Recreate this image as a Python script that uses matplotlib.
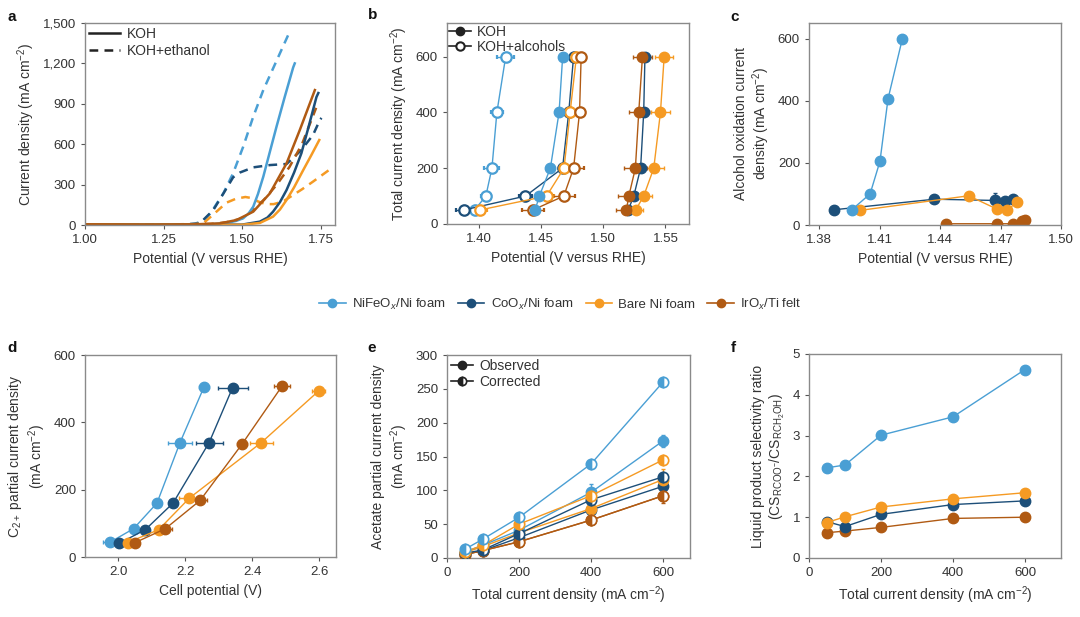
import matplotlib
matplotlib.use("Agg")
import matplotlib.pyplot as plt
from matplotlib.lines import Line2D
from matplotlib.ticker import FuncFormatter
import numpy as np

plt.rcParams['font.family'] = ['Liberation Sans', 'DejaVu Sans']
plt.rcParams['mathtext.fontset'] = 'custom'
plt.rcParams['mathtext.rm'] = 'Liberation Sans'
plt.rcParams['mathtext.it'] = 'Liberation Sans:italic'
plt.rcParams['mathtext.default'] = 'regular'
plt.rcParams['text.color'] = '#333333'
plt.rcParams['axes.labelcolor'] = '#333333'
plt.rcParams['xtick.color'] = '#333333'
plt.rcParams['ytick.color'] = '#333333'

# ---------------- colours / names ----------------
materials = ['NiFeO$_\\mathit{x}$/Ni foam', 'CoO$_\\mathit{x}$/Ni foam', 'Bare Ni foam', 'IrO$_\\mathit{x}$/Ti felt']
colors = ['#4a9fd4', '#1d4f79', '#f59a23', '#b05a13']

# ---------------- panel a: polarisation curves ----------------
a_nife_koh_v = [1.00, 1.20, 1.40, 1.45, 1.48, 1.503, 1.52, 1.535, 1.55, 1.567, 1.609, 1.635, 1.662, 1.667]
a_nife_koh_j = [5, 3, 5, 15, 30, 50, 85, 136, 230, 359, 730, 950, 1170, 1200]
a_nife_eth_v = [1.00, 1.20, 1.30, 1.35, 1.375, 1.40, 1.44, 1.471, 1.503, 1.535, 1.567, 1.646, 1.652]
a_nife_eth_j = [5, 3, 2, 10, 30, 90, 235, 384, 581, 804, 1002, 1410, 1430]
a_co_koh_v = [1.00, 1.20, 1.50, 1.556, 1.58, 1.598, 1.62, 1.641, 1.665, 1.688, 1.71, 1.736, 1.742]
a_co_koh_j = [4, 3, 3, 25, 55, 99, 170, 260, 390, 532, 720, 950, 980]
a_co_eth_v = [1.00, 1.20, 1.33, 1.365, 1.408, 1.45, 1.471, 1.493, 1.535, 1.588, 1.641, 1.686, 1.725, 1.747, 1.752]
a_co_eth_j = [4, 3, 5, 12, 111, 272, 354, 390, 428, 445, 453, 552, 668, 780, 795]
a_ni_koh_v = [1.00, 1.20, 1.50, 1.556, 1.598, 1.62, 1.641, 1.665, 1.694, 1.72, 1.745]
a_ni_koh_j = [3, 2, 2, 15, 62, 115, 186, 280, 408, 520, 631]
a_ni_eth_v = [1.00, 1.20, 1.34, 1.376, 1.418, 1.45, 1.48, 1.51, 1.53, 1.55, 1.575, 1.60, 1.63, 1.66, 1.69, 1.725, 1.78]
a_ni_eth_j = [3, 2, 4, 12, 99, 166, 195, 208, 200, 175, 155, 155, 175, 220, 265, 322, 415]
a_ir_koh_v = [1.00, 1.20, 1.35, 1.429, 1.482, 1.535, 1.588, 1.641, 1.683, 1.731]
a_ir_koh_j = [5, 3, 5, 12, 37, 99, 235, 458, 705, 1002]
a_ir_eth_v = [1.00, 1.20, 1.40, 1.45, 1.50, 1.53, 1.57, 1.61, 1.65, 1.69, 1.72, 1.735]
a_ir_eth_j = [5, 3, 8, 20, 50, 100, 190, 300, 430, 600, 780, 870]

# ---------------- panel b: total current vs potential ----------------
b_j = [50, 100, 200, 400, 600]
b_koh_v = [
    [1.445, 1.4484, 1.4573, 1.4643, 1.4672],
    [1.5200, 1.5245, 1.5300, 1.5325, 1.5335],
    [1.5260, 1.5325, 1.5406, 1.5460, 1.5490],
    [1.5185, 1.5205, 1.5258, 1.5285, 1.5315],
]
b_koh_err = [
    [0.003, 0.003, 0.003, 0.003, 0.003],
    [0.005, 0.004, 0.004, 0.004, 0.004],
    [0.006, 0.007, 0.008, 0.008, 0.007],
    [0.008, 0.009, 0.009, 0.008, 0.008],
]
b_alc_v = [
    [1.3962, 1.4053, 1.4102, 1.4142, 1.4213],
    [1.3874, 1.4372, 1.4671, 1.4721, 1.4760],
    [1.4003, 1.4542, 1.4683, 1.4732, 1.4783],
    [1.4431, 1.4681, 1.4760, 1.4808, 1.4821],
]
b_alc_err = [
    [0.004, 0.004, 0.006, 0.005, 0.007],
    [0.006, 0.005, 0.003, 0.003, 0.003],
    [0.006, 0.006, 0.004, 0.003, 0.003],
    [0.009, 0.009, 0.008, 0.003, 0.003],
]

# ---------------- panel c: alcohol oxidation current ----------------
c_j = [
    [49, 100, 205, 406, 599],
    [49, 83, 79, 76, 83],
    [47, 94, 51, 49, 73],
    [4, 4, 4, 14, 17],
]
c_jerr = [
    [0, 0, 0, 0, 0],
    [0, 8, 25, 0, 0],
    [0, 0, 0, 0, 0],
    [0, 0, 0, 0, 0],
]

# ---------------- panel d: full cell ----------------
d_v = [
    [1.975, 2.045, 2.115, 2.184, 2.256],
    [2.003, 2.080, 2.163, 2.271, 2.341],
    [2.028, 2.120, 2.212, 2.427, 2.598],
    [2.050, 2.140, 2.244, 2.369, 2.489],
]
d_verr = [
    [0.02, 0.012, 0.0, 0.035, 0.015],
    [0.0, 0.01, 0.0, 0.04, 0.045],
    [0.0, 0.01, 0.03, 0.035, 0.02],
    [0.012, 0.02, 0.02, 0.015, 0.025],
]
d_j = [
    [44, 84, 160, 340, 506],
    [41, 81, 160, 340, 503],
    [43, 81, 175, 340, 493],
    [43, 84, 168, 335, 508],
]

# ---------------- panel e: acetate partial current ----------------
e_x = [50, 100, 200, 400, 600]
e_obs = [
    [9, 19, 41, 97, 173],
    [6, 11, 30, 71, 106],
    [8, 17, 37, 73, 116],
    [5, 11, 24, 56, 92],
]
e_obs_err = [
    [2, 3, 4, 12, 9],
    [1, 2, 3, 5, 7],
    [2, 2, 3, 5, 16],
    [1, 2, 3, 5, 11],
]
e_cor = [
    [13, 28, 60, 139, 260],
    [7, 12, 36, 86, 120],
    [9, 19, 50, 92, 145],
    [5, 11, 24, 56, 92],
]

# ---------------- panel f: selectivity ratio ----------------
f_x = [50, 100, 200, 400, 600]
f_ratio = [
    [2.21, 2.28, 3.01, 3.46, 4.62],
    [0.89, 0.77, 1.07, 1.31, 1.40],
    [0.87, 1.01, 1.25, 1.45, 1.60],
    [0.62, 0.66, 0.75, 0.97, 1.00],
]

# =====================================================================
fig = plt.figure(figsize=(10.8, 6.17), dpi=100)
W, H = 1080.0, 617.0

def mkax(l, r, t, b):
    return fig.add_axes([l / W, 1 - b / H, (r - l) / W, (b - t) / H])

axa = mkax(85, 335, 23, 225)
axb = mkax(447, 689, 23, 224)
axc = mkax(809, 1061, 23, 225)
axd = mkax(85, 336, 355, 557)
axe = mkax(447, 690, 355, 558)
axf = mkax(809, 1061, 354, 558)

FS = 9.5
for ax in [axa, axb, axc, axd, axe, axf]:
    for s in ax.spines.values():
        s.set_color('#8a8a8a')
        s.set_linewidth(1.0)
    ax.tick_params(direction='out', length=3, width=0.8, color='#555555', labelsize=FS, top=False, right=False)

MS = 7.5
LW = 1.0

# ---- a ----
a_sets = [(a_nife_koh_v, a_nife_koh_j, a_nife_eth_v, a_nife_eth_j),
          (a_co_koh_v, a_co_koh_j, a_co_eth_v, a_co_eth_j),
          (a_ni_koh_v, a_ni_koh_j, a_ni_eth_v, a_ni_eth_j),
          (a_ir_koh_v, a_ir_koh_j, a_ir_eth_v, a_ir_eth_j)]
for i, (kv, kj, ev, ej) in enumerate(a_sets):
    axa.plot(ev, ej, color=colors[i], lw=1.8, ls=(0, (3.5, 2.5)))
for i, (kv, kj, ev, ej) in enumerate(a_sets):
    axa.plot(kv, kj, color=colors[i], lw=1.8)
axa.set_xlim(1.0, 1.795)
axa.set_ylim(0, 1500)
axa.set_xticks([1.00, 1.25, 1.50, 1.75])
axa.xaxis.set_major_formatter(FuncFormatter(lambda v, p: f'{v:.2f}'))
axa.set_yticks([0, 300, 600, 900, 1200, 1500])
axa.yaxis.set_major_formatter(FuncFormatter(lambda v, p: f'{int(v):,}'))
axa.set_xlabel('Potential (V versus RHE)', fontsize=FS + 0.5)
axa.set_ylabel('Current density (mA cm$^{-2}$)', fontsize=FS + 0.5)
ha = [Line2D([], [], color='#222222', lw=1.8), Line2D([], [], color='#222222', lw=1.8, ls=(0, (3.5, 2.5)))]
axa.legend(ha, ['KOH', 'KOH+ethanol'], loc='upper left', frameon=False, fontsize=FS + 0.5,
           handlelength=2.2, borderaxespad=0.1, borderpad=0.2, labelspacing=0.2, handletextpad=0.5)

# ---- b ----
for i in range(4):
    axb.errorbar(b_alc_v[i], b_j, xerr=b_alc_err[i], fmt='-o', color=colors[i], lw=LW, ms=MS,
                 mfc='white', mec=colors[i], mew=1.6, elinewidth=1.0, capsize=1.5, zorder=3)
for i in range(4):
    axb.errorbar(b_koh_v[i], b_j, xerr=b_koh_err[i], fmt='-o', color=colors[i], lw=LW, ms=MS,
                 mfc=colors[i], mec=colors[i], elinewidth=1.0, capsize=1.5, zorder=4)
axb.set_xlim(1.374, 1.569)
axb.set_ylim(0, 720)
axb.set_xticks([1.40, 1.45, 1.50, 1.55])
axb.xaxis.set_major_formatter(FuncFormatter(lambda v, p: f'{v:.2f}'))
axb.set_yticks([0, 200, 400, 600])
axb.set_xlabel('Potential (V versus RHE)', fontsize=FS + 0.5)
axb.set_ylabel('Total current density (mA cm$^{-2}$)', fontsize=FS + 0.5)
hb = [Line2D([], [], color='#222222', lw=1.2, marker='o', ms=6),
      Line2D([], [], color='#222222', lw=1.2, marker='o', ms=6, mfc='white', mew=1.5)]
axb.legend(hb, ['KOH', 'KOH+alcohols'], loc='upper left', frameon=False, fontsize=FS + 0.5,
           handlelength=1.6, borderaxespad=0.0, borderpad=0.15, labelspacing=0.05, handletextpad=0.4)

# ---- c ----
for i in [1, 2, 0, 3]:
    axc.errorbar(b_alc_v[i], c_j[i], yerr=c_jerr[i], fmt='-o', color=colors[i], lw=LW, ms=MS,
                 elinewidth=1.0, capsize=1.5)
axc.set_xlim(1.375, 1.50)
axc.set_ylim(0, 650)
axc.set_xticks([1.38, 1.41, 1.44, 1.47, 1.50])
axc.xaxis.set_major_formatter(FuncFormatter(lambda v, p: f'{v:.2f}'))
axc.set_yticks([0, 200, 400, 600])
axc.set_xlabel('Potential (V versus RHE)', fontsize=FS + 0.5)
axc.set_ylabel('Alcohol oxidation current\ndensity (mA cm$^{-2}$)', fontsize=FS + 0.5)

# ---- d ----
for i in range(4):
    axd.errorbar(d_v[i], d_j[i], xerr=d_verr[i], fmt='-o', color=colors[i], lw=LW, ms=MS,
                 elinewidth=1.0, capsize=1.5)
axd.set_xlim(1.90, 2.65)
axd.set_ylim(0, 600)
axd.set_xticks([2.0, 2.2, 2.4, 2.6])
axd.set_yticks([0, 200, 400, 600])
axd.set_xlabel('Cell potential (V)', fontsize=FS + 0.5)
axd.set_ylabel('C$_{2+}$ partial current density\n(mA cm$^{-2}$)', fontsize=FS + 0.5)

# ---- e ----
for i in [3, 1, 2, 0]:
    axe.errorbar(e_x, e_obs[i], yerr=e_obs_err[i], fmt='-o', color=colors[i], lw=LW, ms=MS,
                 elinewidth=1.0, capsize=1.5, zorder=3)
    axe.plot(e_x, e_cor[i], '-o', color=colors[i], lw=LW, ms=MS, fillstyle='left',
             mfc=colors[i], mfcalt='white', mec=colors[i], mew=1.2, zorder=4)
axe.set_xlim(0, 675)
axe.set_ylim(0, 300)
axe.set_xticks([0, 200, 400, 600])
axe.set_yticks([0, 50, 100, 150, 200, 250, 300])
axe.set_xlabel('Total current density (mA cm$^{-2}$)', fontsize=FS + 0.5)
axe.set_ylabel('Acetate partial current density\n(mA cm$^{-2}$)', fontsize=FS + 0.5)
he = [Line2D([], [], color='#222222', lw=1.2, marker='o', ms=6),
      Line2D([], [], color='#222222', lw=1.2, marker='o', ms=6, fillstyle='left', mfcalt='white', mew=1.2)]
axe.legend(he, ['Observed', 'Corrected'], loc='upper left', frameon=False, fontsize=FS + 0.5,
           handlelength=1.6, borderaxespad=0.1, borderpad=0.2, labelspacing=0.15, handletextpad=0.4)

# ---- f ----
for i in [3, 1, 2, 0]:
    axf.plot(f_x, f_ratio[i], '-o', color=colors[i], lw=LW, ms=MS)
axf.set_xlim(0, 700)
axf.set_ylim(0, 5)
axf.set_xticks([0, 200, 400, 600])
axf.set_yticks([0, 1, 2, 3, 4, 5])
axf.set_xlabel('Total current density (mA cm$^{-2}$)', fontsize=FS + 0.5)
axf.set_ylabel('Liquid product selectivity ratio\n(CS$_{RCOO^{-}}$/CS$_{RCH_2OH}$)', fontsize=FS + 0.5)

# ---- shared legend ----
hl = [Line2D([], [], color=c, lw=1.2, marker='o', ms=6) for c in colors]
fig.legend(hl, materials, loc='center', bbox_to_anchor=(0.519, 0.507), ncol=4, frameon=False,
           fontsize=FS, handlelength=2.0, columnspacing=0.9, handletextpad=0.5)

# ---- panel letters ----
for lab, x, y in [('a', 12, 17), ('b', 373, 15), ('c', 735, 17), ('d', 12, 348), ('e', 372, 348), ('f', 733, 348)]:
    fig.text(x / W, 1 - y / H, lab, fontsize=11, fontweight='bold', color='#111111', ha='center', va='center')

fig.savefig('out.png', dpi=100)
